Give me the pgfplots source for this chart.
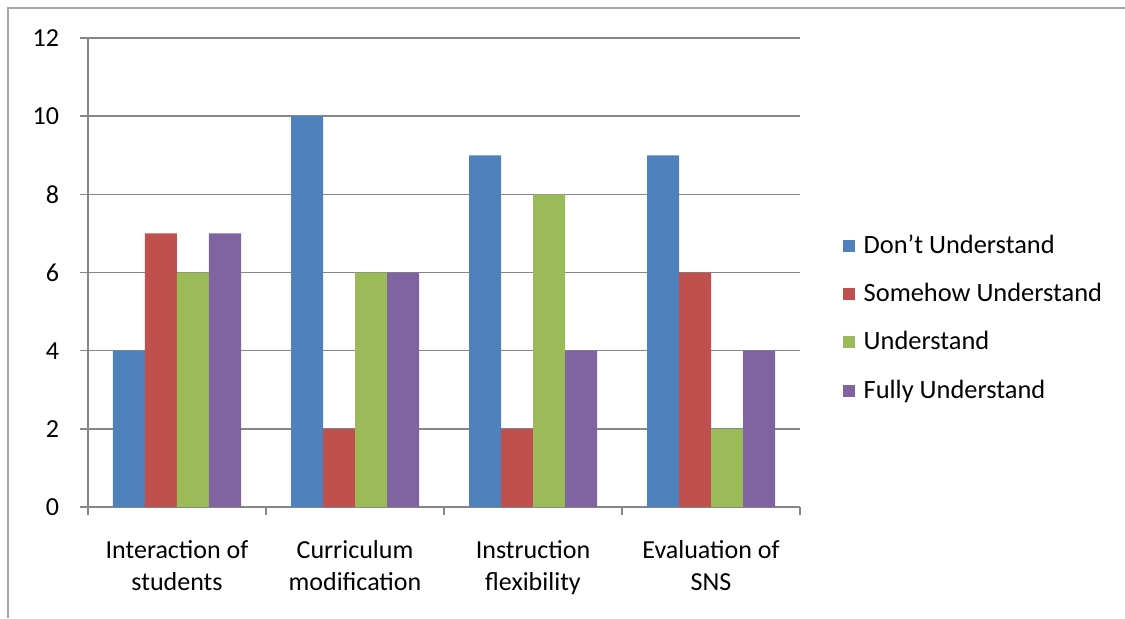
\documentclass[border=0pt]{standalone}
\usepackage{pgfplots}
\pgfplotsset{compat=1.18}
\usepackage{fontspec}
\setmainfont{Carlito}
\definecolor{cblue}{HTML}{4F81BD}
\definecolor{cred}{HTML}{C0504D}
\definecolor{cgreen}{HTML}{9BBB59}
\definecolor{cpurple}{HTML}{8064A2}
\definecolor{gridc}{HTML}{868686}
\begin{document}
\begin{tikzpicture}
\path[use as bounding box] (0,0) rectangle (562.5pt,309pt);
\draw[color=gray!70, line width=1pt] (4pt,0) -- (4pt,305pt) -- (562.5pt,305pt);
\begin{axis}[
  at={(44pt,55.5pt)}, anchor=south west,
  scale only axis, width=356pt, height=234.5pt,
  ybar=0pt, bar width=16pt,
  xmin=-0.5, xmax=3.5, ymin=0, ymax=12,
  ytick={0,2,...,12},
  xtick={0,1,2,3},
  xticklabels={Interaction of\\students, Curriculum\\modification, Instruction\\flexibility, Evaluation of\\SNS},
  minor xtick={-0.5,0.5,1.5,2.5,3.5},
  major x tick style={draw=none},
  minor x tick style={gridc, line width=0.8pt},
  y tick style={gridc, line width=0.8pt},
  tick align=outside, major tick length=4pt, minor tick length=4pt,
  axis x line*=bottom, axis y line*=left,
  axis line style={gridc, line width=0.8pt, -},
  ymajorgrids, grid style={gridc, line width=0.8pt},
  font=\fontsize{13}{16}\selectfont,
  tick label style={font=\fontsize{13}{16}\selectfont},
  /pgf/number format/assume math mode=true,
  xticklabel style={align=center, yshift=-9pt},
  yticklabel style={xshift=-7pt},
  legend style={at={(1.06,0.403)}, anchor=west, draw=none, fill=none,
    inner sep=0pt, outer sep=0pt,
    font=\fontsize{13.2}{16}\selectfont, row sep=9.5pt,
    /tikz/every even column/.append style={column sep=2pt}},
  legend cell align=left,
  legend image code/.code={\fill[#1] (0pt,-3pt) rectangle (6pt,3pt);},
  legend image post style={},
  enlargelimits=false, clip=false,
]
\addplot[fill=cblue, draw=none] coordinates {(0,4) (1,10) (2,9) (3,9)};
\addplot[fill=cred, draw=none] coordinates {(0,7) (1,2) (2,2) (3,6)};
\addplot[fill=cgreen, draw=none] coordinates {(0,6) (1,6) (2,8) (3,2)};
\addplot[fill=cpurple, draw=none] coordinates {(0,7) (1,6) (2,4) (3,4)};
\legend{\hspace{2.5pt}Don’t Understand, \hspace{2.5pt}Somehow Understand, \hspace{2.5pt}Understand, \hspace{2.5pt}Fully Understand}
\end{axis}
\end{tikzpicture}
\end{document}
